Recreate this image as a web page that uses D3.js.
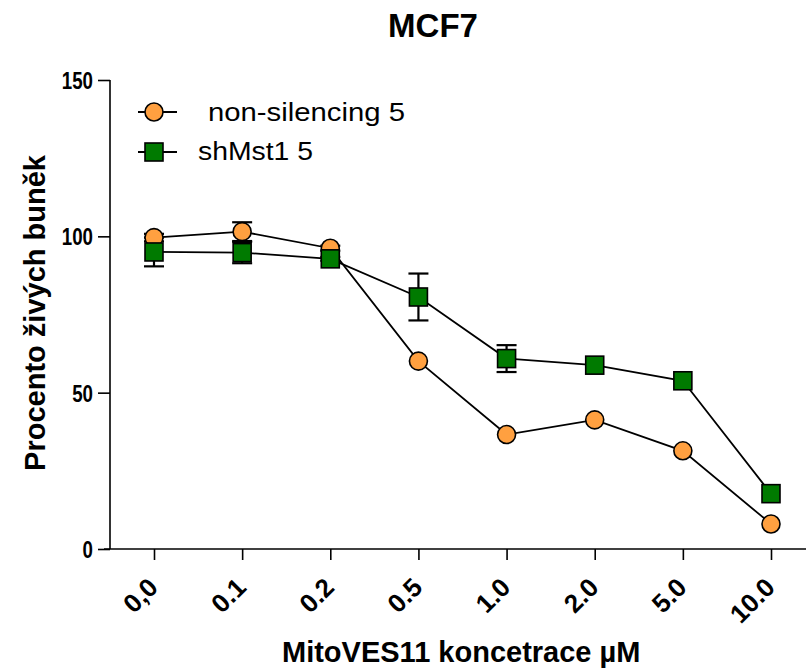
<!DOCTYPE html>
<html>
<head>
<meta charset="utf-8">
<script src="https://cdn.jsdelivr.net/npm/d3@7"></script>
<style>
  body { margin: 0; background: #fff; }
  text { font-family: "Liberation Sans", Arial, sans-serif; }
  .narrow { font-family: "Liberation Sans Narrow", "Liberation Sans", Arial, sans-serif; font-weight: bold; }
</style>
</head>
<body>
<div id="chart"></div>
<script>
// concentrations (uM) as category labels
var doses = ["0,0", "0.1", "0.2", "0.5", "1.0", "2.0", "5.0", "10.0"];
var nonSilencing = [99.6, 101.5, 96.2, 60.1, 36.6, 41.3, 31.4, 8.0];
var nonSilencingErr = [1.2, 3.0, 0.8, 0, 0, 0, 0, 0];
var shMst1 = [95.0, 94.8, 92.8, 80.6, 60.9, 58.8, 53.8, 17.7];
var shMst1Err = [4.6, 3.4, 0.6, 7.5, 4.3, 0, 0, 0];
var yTicks = [0, 50, 100, 150];

var width = 806, height = 671;
var svg = d3.select("#chart").append("svg")
    .attr("width", width)
    .attr("height", height);

var x = d3.scalePoint().domain(doses).range([154, 771]);
var y = d3.scaleLinear().domain([0, 150]).range([549, 80]);

// axes
var yAxis = svg.append("g")
    .attr("transform", "translate(110,0)")
    .call(d3.axisLeft(y).tickValues(yTicks).tickSize(12).tickPadding(5));
yAxis.select(".domain").attr("d", "M0," + y(0) + "V" + y(150));
yAxis.selectAll("text")
    .attr("class", "narrow")
    .attr("dy", "0.36em")
    .style("font-size", "24px")
    // condensed look of the original digits
    .attr("textLength", function (d) { return String(d).length * 10.4; })
    .attr("lengthAdjust", "spacingAndGlyphs");
yAxis.selectAll("line, path").attr("stroke", "#000").attr("stroke-width", 1.6);

var xAxis = svg.append("g")
    .attr("transform", "translate(0," + y(0) + ")")
    .call(d3.axisBottom(x).tickSize(11));
xAxis.select(".domain").attr("d", "M104,0H806");
xAxis.selectAll("line, path").attr("stroke", "#000").attr("stroke-width", 1.6);
xAxis.selectAll("text")
    .attr("class", "narrow")
    .style("font-size", "26px")
    .attr("text-anchor", "end")
    .attr("x", 0).attr("y", 0).attr("dy", null)
    .attr("transform", "translate(5,40) rotate(-45)");

// titles
svg.append("text")
    .attr("x", 433).attr("y", 37)
    .attr("text-anchor", "middle")
    .style("font-size", "33px").style("font-weight", "bold")
    .text("MCF7");

svg.append("text")
    .attr("class", "narrow")
    .attr("transform", "translate(45,313) rotate(-90)")
    .attr("text-anchor", "middle")
    .style("font-size", "29px")
    .text("Procento živých buněk");

svg.append("text")
    .attr("class", "narrow")
    .attr("x", 282).attr("y", 662)
    .style("font-size", "29px")
    .text("MitoVES11 koncetrace µM");

var line = d3.line()
    .x(function (d, i) { return x(doses[i]); })
    .y(function (d) { return y(d); });

function drawErr(vals, errs) {
    var g = svg.append("g").attr("stroke", "#000").attr("stroke-width", 2.2);
    vals.forEach(function (v, i) {
        if (!errs[i]) return;
        var cx = x(doses[i]);
        g.append("line").attr("x1", cx).attr("x2", cx)
            .attr("y1", y(v - errs[i])).attr("y2", y(v + errs[i]));
        [v - errs[i], v + errs[i]].forEach(function (e) {
            g.append("line").attr("x1", cx - 10).attr("x2", cx + 10)
                .attr("y1", y(e)).attr("y2", y(e));
        });
    });
}

// lines
svg.append("path").attr("d", line(shMst1))
    .attr("fill", "none").attr("stroke", "#000").attr("stroke-width", 1.8);
svg.append("path").attr("d", line(nonSilencing))
    .attr("fill", "none").attr("stroke", "#000").attr("stroke-width", 1.8);

drawErr(shMst1, shMst1Err);
drawErr(nonSilencing, nonSilencingErr);

var orange = "#ffa040", green = "#007a00";

svg.append("g").selectAll("circle").data(nonSilencing).enter().append("circle")
    .attr("cx", function (d, i) { return x(doses[i]); })
    .attr("cy", function (d) { return y(d); })
    .attr("r", 9)
    .attr("fill", orange).attr("stroke", "#000").attr("stroke-width", 1.6);

svg.append("g").selectAll("rect").data(shMst1).enter().append("rect")
    .attr("x", function (d, i) { return x(doses[i]) - 9; })
    .attr("y", function (d) { return y(d) - 9; })
    .attr("width", 18).attr("height", 18)
    .attr("fill", green).attr("stroke", "#000").attr("stroke-width", 1.6);

// legend
var legend = svg.append("g");
legend.append("line").attr("x1", 138).attr("x2", 177).attr("y1", 112).attr("y2", 112)
    .attr("stroke", "#000").attr("stroke-width", 1.8);
legend.append("circle").attr("cx", 154).attr("cy", 112).attr("r", 9)
    .attr("fill", orange).attr("stroke", "#000").attr("stroke-width", 1.6);
legend.append("text").attr("x", 208).attr("y", 121)
    .style("font-size", "26px")
    .attr("textLength", 197).attr("lengthAdjust", "spacingAndGlyphs")
    .text("non-silencing 5");

legend.append("line").attr("x1", 138).attr("x2", 177).attr("y1", 152).attr("y2", 152)
    .attr("stroke", "#000").attr("stroke-width", 1.8);
legend.append("rect").attr("x", 145).attr("y", 143).attr("width", 18).attr("height", 18)
    .attr("fill", green).attr("stroke", "#000").attr("stroke-width", 1.6);
legend.append("text").attr("x", 198).attr("y", 160)
    .style("font-size", "26px")
    .attr("textLength", 115).attr("lengthAdjust", "spacingAndGlyphs")
    .text("shMst1 5");
</script>
</body>
</html>
